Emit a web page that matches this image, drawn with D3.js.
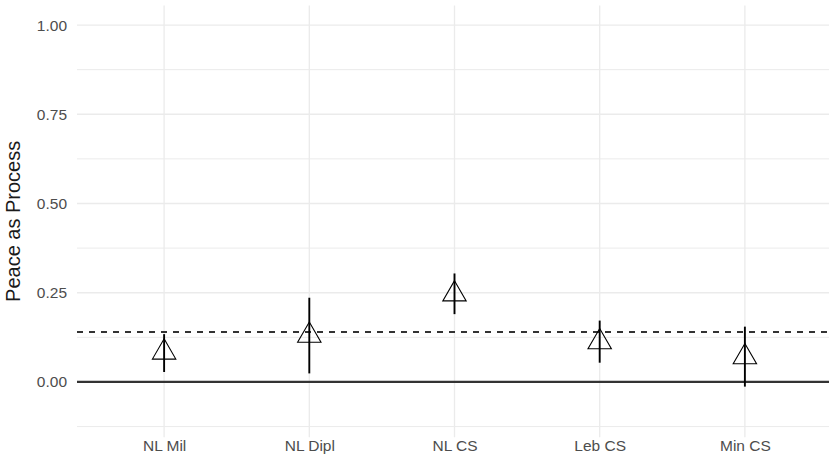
<!DOCTYPE html>
<html>
<head>
<meta charset="utf-8">
<script src="https://cdn.jsdelivr.net/npm/d3@7"></script>
<style>
  html, body { margin: 0; padding: 0; background: #fff; }
  svg { display: block; font-family: "Liberation Sans", Arial, Helvetica, sans-serif; }
</style>
</head>
<body>
<svg id="chart" width="829" height="464"></svg>
<script>
// Estimates with confidence intervals by group
const categories = ["NL Mil", "NL Dipl", "NL CS", "Leb CS", "Min CS"];
const estimates  = [0.083, 0.130, 0.246, 0.112, 0.070];
const lowerCI    = [0.028, 0.024, 0.190, 0.054, -0.013];
const upperCI    = [0.134, 0.236, 0.304, 0.172, 0.155];
const referenceLine = 0.14;
const yTicks      = [0, 0.25, 0.5, 0.75, 1];
const yMinorTicks = [-0.125, 0.125, 0.375, 0.625, 0.875];
const yLimits     = [-0.1, 1];

const svg = d3.select("#chart");
const W = 829, H = 464;
const panel = { left: 77, right: 832, top: 5.4, bottom: 437.3 };

const x = d3.scalePoint()
  .domain(categories)
  .range([panel.left, panel.right])
  .padding(0.6);

const y = d3.scaleLinear()
  .domain(yLimits)
  .range([panel.bottom - (panel.bottom - panel.top) * 0.05 / 1.1,
          panel.top + (panel.bottom - panel.top) * 0.05 / 1.1]);

const grid = svg.append("g");
// minor horizontal gridlines
grid.selectAll("line.minor").data(yMinorTicks).join("line")
  .attr("x1", panel.left).attr("x2", W)
  .attr("y1", d => y(d)).attr("y2", d => y(d))
  .attr("stroke", "#ebebeb").attr("stroke-width", 1);
// major horizontal gridlines
grid.selectAll("line.major").data(yTicks).join("line")
  .attr("x1", panel.left).attr("x2", W)
  .attr("y1", d => y(d)).attr("y2", d => y(d))
  .attr("stroke", "#ebebeb").attr("stroke-width", 1.3);
// vertical gridlines
grid.selectAll("line.vx").data(categories).join("line")
  .attr("x1", d => x(d)).attr("x2", d => x(d))
  .attr("y1", panel.top).attr("y2", panel.bottom)
  .attr("stroke", "#ebebeb").attr("stroke-width", 1.3);

// y axis labels
const yAxis = d3.axisLeft(y).tickValues(yTicks).tickFormat(d3.format(".2f")).tickSize(0).tickPadding(10);
const gy = svg.append("g").attr("transform", `translate(${panel.left},0)`).call(yAxis);
gy.select(".domain").remove();
gy.selectAll("text").attr("fill", "#4d4d4d").style("font-size", "15.5px")
  .style("font-family", "'Liberation Sans', Arial, sans-serif");

// x axis labels
const xAxis = d3.axisBottom(x).tickSize(0).tickPadding(0);
const gx = svg.append("g").attr("transform", `translate(0,${panel.bottom})`).call(xAxis);
gx.select(".domain").remove();
gx.selectAll("text").attr("fill", "#4d4d4d").style("font-size", "15.5px")
  .attr("dy", "0.71em").attr("y", 3)
  .style("font-family", "'Liberation Sans', Arial, sans-serif");

// y axis title
svg.append("text")
  .attr("transform", `translate(20,${(panel.top + panel.bottom) / 2}) rotate(-90)`)
  .attr("text-anchor", "middle")
  .attr("fill", "#1a1a1a")
  .style("font-size", "20px")
  .text("Peace as Process");

// zero line
svg.append("line")
  .attr("x1", panel.left).attr("x2", W)
  .attr("y1", y(0)).attr("y2", y(0))
  .attr("stroke", "#333").attr("stroke-width", 2.2);

// reference (dashed) line
svg.append("line")
  .attr("x1", panel.left).attr("x2", W)
  .attr("y1", y(referenceLine)).attr("y2", y(referenceLine))
  .attr("stroke", "#333").attr("stroke-width", 2)
  .attr("stroke-dasharray", "6,6");

const rows = categories.map((c, i) => ({ c, est: estimates[i], lo: lowerCI[i], hi: upperCI[i] }));

// confidence intervals
svg.append("g").selectAll("line").data(rows).join("line")
  .attr("x1", d => x(d.c)).attr("x2", d => x(d.c))
  .attr("y1", d => y(d.lo)).attr("y2", d => y(d.hi))
  .attr("stroke", "#000").attr("stroke-width", 1.9);

// open triangle markers (apex r above centre, base r/2 below)
const r = 13.5;
const tri = d3.line();
svg.append("g").selectAll("path").data(rows).join("path")
  .attr("d", d => {
    const cx = x(d.c), cy = y(d.est);
    const hw = r * Math.sqrt(3) / 2;
    return tri([[cx, cy - r], [cx + hw, cy + r / 2], [cx - hw, cy + r / 2]]) + "Z";
  })
  .attr("fill", "none").attr("stroke", "#000").attr("stroke-width", 1.1);
</script>
</body>
</html>
